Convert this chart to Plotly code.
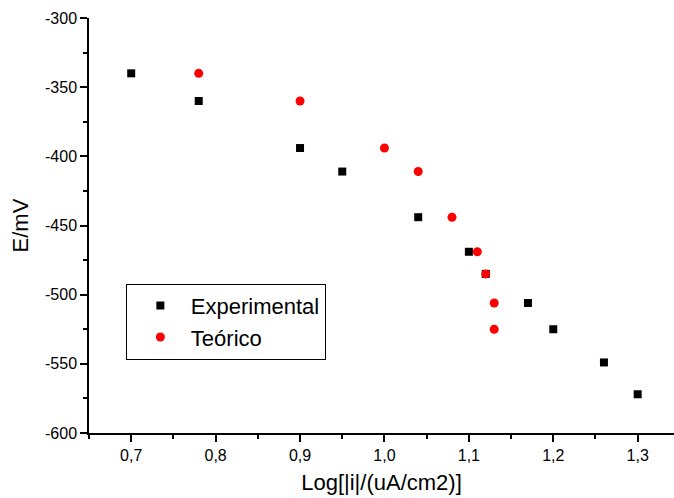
import plotly.graph_objects as go

# Data
exp_x = [0.70, 0.78, 0.90, 0.95, 1.04, 1.10, 1.12, 1.17, 1.20, 1.26, 1.30]
exp_y = [-340, -360, -394, -411, -444, -469, -485, -506, -525, -549, -572]
teo_x = [0.78, 0.90, 1.00, 1.04, 1.08, 1.11, 1.12, 1.13, 1.13]
teo_y = [-340, -360, -394, -411, -444, -469, -485, -506, -525]

x_ticks = [0.7, 0.8, 0.9, 1.0, 1.1, 1.2, 1.3]
x_tick_labels = ["0,7", "0,8", "0,9", "1,0", "1,1", "1,2", "1,3"]
y_ticks = [-600, -550, -500, -450, -400, -350, -300]
y_tick_labels = ["-600", "-550", "-500", "-450", "-400", "-350", "-300"]

FONT = "Arial, Liberation Sans, sans-serif"

fig = go.Figure()
fig.add_trace(go.Scatter(x=exp_x, y=exp_y, mode="markers", name="Experimental",
                         marker=dict(symbol="square", size=8, color="black")))
fig.add_trace(go.Scatter(x=teo_x, y=teo_y, mode="markers", name="Teórico",
                         marker=dict(symbol="circle", size=9, color="red")))

axis_common = dict(showgrid=False, zeroline=False, showline=True, linecolor="black",
                   linewidth=1.5, ticks="outside", ticklen=7, tickwidth=1.5,
                   tickcolor="black", tickfont=dict(family=FONT, size=16, color="black"))

fig.update_xaxes(range=[0.65, 1.343], tickvals=x_ticks, ticktext=x_tick_labels,
                 title=dict(text="Log[|i|/(uA/cm2)]", font=dict(family=FONT, size=22, color="black"),
                            standoff=12),
                 minor=dict(ticks="outside", ticklen=4, tickwidth=1.5, tickcolor="black",
                            tick0=0.65, dtick=0.05),
                 **axis_common)
fig.update_yaxes(range=[-600, -300], tickvals=y_ticks, ticktext=y_tick_labels,
                 title=dict(text="E/mV", font=dict(family=FONT, size=22, color="black"),
                            standoff=10),
                 minor=dict(ticks="outside", ticklen=4, tickwidth=1.5, tickcolor="black",
                            tick0=-600, dtick=25),
                 **axis_common)

fig.update_layout(
    width=674, height=498,
    margin=dict(l=89, r=0, t=18, b=65),
    plot_bgcolor="white", paper_bgcolor="white",
    font=dict(family=FONT, color="black"),
    showlegend=True,
    legend=dict(x=0.063, y=0.36, xanchor="left", yanchor="top",
                bordercolor="black", borderwidth=1, bgcolor="white",
                font=dict(family=FONT, size=22, color="black"),
                indentation=3, itemwidth=51, tracegroupgap=0,
                entrywidth=135, entrywidthmode="pixels"),
)

fig.write_html("out.html", config={"displayModeBar": False},
               post_script="document.body.style.margin='0';")
